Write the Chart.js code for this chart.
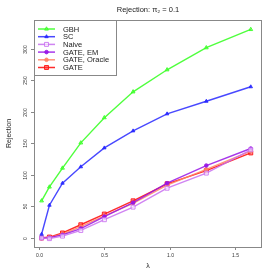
<!DOCTYPE html>
<html><head><meta charset="utf-8">
<script src="https://cdn.jsdelivr.net/npm/chart.js@4"></script>
<style>html,body{margin:0;padding:0;background:#fff}#c{display:block}</style>
</head><body>
<div style="width:273px;height:273px"><canvas id="c" width="273" height="273"></canvas></div>
<script>
const lambdas = [0.02, 0.08, 0.18, 0.32, 0.50, 0.72, 0.98, 1.28, 1.62];
const gbh    = [59, 81, 111, 151, 191, 232, 267, 302, 331];
const sc     = [6, 52, 87, 113, 143, 170, 197, 217, 240];
const naive  = [0, -1, 3, 12, 29, 49, 79, 103, 140];
const gateEM = [0, 0.5, 5, 15, 34, 56, 87, 115, 142];
const gateOr = [0, 1, 6, 18, 35, 55, 84, 109, 138];
const gate   = [0, 1.5, 8, 21, 38, 59, 86, 107, 135];
const yTicks = [0, 50, 100, 150, 200, 250, 300];
const xTicks = [0.0, 0.5, 1.0, 1.5];
const xTickLabels = ['0.0', '0.5', '1.0', '1.5'];
const seriesNames = ['GBH', 'SC', 'Naive', 'GATE, EM', 'GATE, Oracle', 'GATE'];

const pts = arr => arr.map((v, i) => ({x: lambdas[i], y: v}));
function ds(label, data, color, fill, style, r) {
  return {label, data: pts(data), borderColor: color, backgroundColor: fill,
    pointBorderColor: color, pointBackgroundColor: fill, pointStyle: style,
    pointRadius: r, pointBorderWidth: 1, borderWidth: 1.4, tension: 0};
}
const datasets = [
  ds(seriesNames[0], gbh, 'rgba(60,255,40,0.9)', 'rgba(60,255,40,0.5)', 'triangle', 2.2),
  ds(seriesNames[1], sc, 'rgba(40,40,255,0.85)', 'rgba(40,40,255,0.9)', 'triangle', 2),
  ds(seriesNames[2], naive, 'rgba(200,110,240,0.85)', 'rgba(255,255,255,0.6)', 'rect', 2.8),
  ds(seriesNames[3], gateEM, 'rgba(150,20,230,0.85)', 'rgba(150,20,230,0.9)', 'circle', 1.8),
  ds(seriesNames[4], gateOr, 'rgba(255,130,100,0.85)', 'rgba(255,130,100,0.9)', 'circle', 1.8),
  ds(seriesNames[5], gate, 'rgba(255,20,20,0.9)', 'rgba(255,60,60,0.6)', 'rect', 2.8)
];

const FONT = '"Liberation Sans", Arial, sans-serif';
const decor = {
  id: 'decor',
  afterDraw(chart) {
    const ctx = chart.ctx, a = chart.chartArea;
    const xs = chart.scales.x, ys = chart.scales.y;
    ctx.save();
    ctx.strokeStyle = '#888'; ctx.lineWidth = 1;
    ctx.strokeRect(a.left + 0.5, a.top + 0.5, a.right - a.left - 1, a.bottom - a.top);
    ctx.fillStyle = '#333'; ctx.font = '5px ' + FONT;
    yTicks.forEach(v => {
      const py = Math.round(ys.getPixelForValue(v)) + 0.5;
      ctx.beginPath(); ctx.moveTo(a.left, py); ctx.lineTo(a.left - 3, py); ctx.stroke();
      ctx.save(); ctx.translate(a.left - 6, py); ctx.rotate(-Math.PI / 2);
      ctx.textAlign = 'center'; ctx.textBaseline = 'bottom';
      ctx.fillText(String(v), 0, 0); ctx.restore();
    });
    xTicks.forEach((v, i) => {
      const px = Math.round(xs.getPixelForValue(v)) + 0.5;
      ctx.beginPath(); ctx.moveTo(px, a.bottom); ctx.lineTo(px, a.bottom + 3); ctx.stroke();
      ctx.textAlign = 'center'; ctx.textBaseline = 'top';
      ctx.fillText(xTickLabels[i], px, a.bottom + 6);
    });
    ctx.font = '7px ' + FONT; ctx.fillStyle = '#222';
    ctx.textAlign = 'center'; ctx.textBaseline = 'middle';
    ctx.fillText('λ', (a.left + a.right) / 2, 266);
    ctx.save(); ctx.translate(9, (a.top + a.bottom) / 2); ctx.rotate(-Math.PI / 2);
    ctx.fillText('Rejection', 0, 0); ctx.restore();
    ctx.font = '7.5px ' + FONT;
    ctx.fillText('Rejection: π₂ = 0.1', (a.left + a.right) / 2, 10);
    const lx = a.left, ly = a.top, lw = 82, lh = 55;
    ctx.fillStyle = '#fff'; ctx.fillRect(lx, ly, lw, lh);
    ctx.strokeStyle = '#888'; ctx.lineWidth = 1; ctx.strokeRect(lx + 0.5, ly + 0.5, lw, lh);
    ctx.font = '7.5px ' + FONT; ctx.textAlign = 'left'; ctx.textBaseline = 'middle';
    chart.data.datasets.forEach((d, i) => {
      const y = ly + 9 + i * 7.7;
      ctx.strokeStyle = d.borderColor; ctx.lineWidth = 1.5;
      ctx.beginPath(); ctx.moveTo(lx + 4, y); ctx.lineTo(lx + 21, y); ctx.stroke();
      ctx.lineWidth = 1;
      ctx.fillStyle = d.pointBackgroundColor; ctx.strokeStyle = d.pointBorderColor;
      Chart.helpers.drawPoint(ctx, {pointStyle: d.pointStyle, radius: d.pointRadius, borderWidth: 1, rotation: 0}, lx + 12.5, y);
      ctx.fillStyle = '#222';
      ctx.fillText(d.label, lx + 29, y + 0.5);
    });
    ctx.restore();
  }
};

new Chart(document.getElementById('c'), {
  type: 'line',
  data: {datasets},
  options: {
    responsive: false, animation: false, devicePixelRatio: 1,
    layout: {padding: {top: 20, right: 11, left: 0, bottom: 0}},
    plugins: {legend: {display: false}, title: {display: false}, tooltip: {enabled: false}},
    scales: {
      x: {type: 'linear', min: -0.038, max: 1.706,
        grid: {display: false}, border: {display: false}, ticks: {display: false},
        afterFit: s => { s.height = 26; },
        afterBuildTicks: s => { s.ticks = xTicks.map(v => ({value: v})); }},
      y: {type: 'linear', min: -14.3, max: 346,
        grid: {display: false}, border: {display: false}, ticks: {display: false},
        afterFit: s => { s.width = 34; },
        afterBuildTicks: s => { s.ticks = yTicks.map(v => ({value: v})); }}
    }
  },
  plugins: [decor]
});
</script>
</body></html>
